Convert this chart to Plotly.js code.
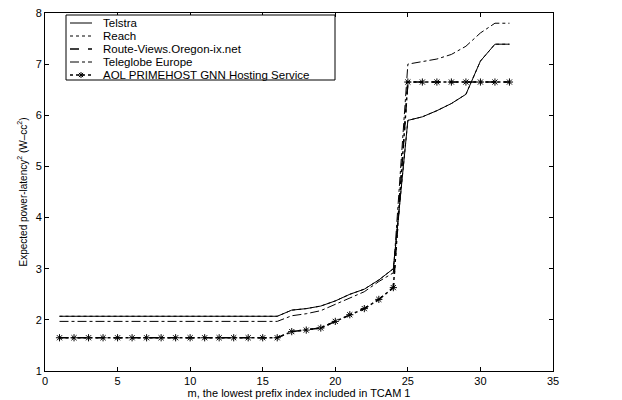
<!DOCTYPE html>
<html><head><meta charset="utf-8">
<script src="https://cdn.plot.ly/plotly-3.0.1.min.js"></script>
<style>html,body{margin:0;padding:0;background:#fff}</style>
</head><body>
<div id="chart" style="width:622px;height:400px"></div>
<script>
const m = [1,2,3,4,5,6,7,8,9,10,11,12,13,14,15,16,17,18,19,20,21,22,23,24,25,26,27,28,29,30,31,32];
const telstra = [2.07,2.07,2.07,2.07,2.07,2.07,2.07,2.07,2.07,2.07,2.07,2.07,2.07,2.07,2.07,2.07,2.19,2.22,2.27,2.37,2.5,2.6,2.78,3.0,5.9,5.97,6.09,6.23,6.41,7.06,7.39,7.39];
const reach = [2.07,2.07,2.07,2.07,2.07,2.07,2.07,2.07,2.07,2.07,2.07,2.07,2.07,2.07,2.07,2.07,2.19,2.22,2.27,2.37,2.5,2.6,2.78,3.0,5.9,5.97,6.09,6.23,6.41,7.06,7.39,7.39];
const routeViews = [1.65,1.65,1.65,1.65,1.65,1.65,1.65,1.65,1.65,1.65,1.65,1.65,1.65,1.65,1.65,1.65,1.77,1.8,1.84,1.97,2.1,2.22,2.4,2.63,6.65,6.65,6.65,6.65,6.65,6.65,6.65,6.65];
const teleglobe = [1.97,1.97,1.97,1.97,1.97,1.97,1.97,1.97,1.97,1.97,1.97,1.97,1.97,1.97,1.97,1.97,2.08,2.12,2.18,2.3,2.43,2.55,2.75,2.92,7.0,7.05,7.1,7.19,7.35,7.61,7.8,7.8];
const aol = [1.65,1.65,1.65,1.65,1.65,1.65,1.65,1.65,1.65,1.65,1.65,1.65,1.65,1.65,1.65,1.65,1.77,1.8,1.84,1.97,2.1,2.22,2.4,2.63,6.65,6.65,6.65,6.65,6.65,6.65,6.65,6.65];
const names = ['Telstra','Reach','Route-Views.Oregon-ix.net','Teleglobe Europe','AOL PRIMEHOST GNN Hosting Service'];
const dashes = ['solid','dot','dash','dashdot','dot'];
const xTicks = [0,5,10,15,20,25,30,35];
const yTicks = [1,2,3,4,5,6,7,8];

const FONT = 'Liberation Sans, Arial, sans-serif';
const traces = [
  {x:m, y:telstra, name:names[0], mode:'lines', line:{color:'#000', width:1, dash:dashes[0]}},
  {x:m, y:reach, name:names[1], mode:'lines', line:{color:'#000', width:1, dash:dashes[1]}},
  {x:m, y:routeViews, name:names[2], mode:'lines', line:{color:'#000', width:1.5, dash:dashes[2]}},
  {x:m, y:teleglobe, name:names[3], mode:'lines', line:{color:'#000', width:1, dash:dashes[3]}},
  {x:m, y:aol, name:names[4], mode:'lines+markers', line:{color:'#000', width:1.5, dash:dashes[4]},
   marker:{symbol:'asterisk-open', size:6, color:'#000', line:{color:'#000', width:1}}}
];

// Legend drawn in paper coordinates (plot area: 45..553 px wide, 13..371 px tall)
const px = v => (v - 45) / 508;
const py = v => (371 - v) / 358;
const shapes = [
  {type:'rect', xref:'paper', yref:'paper', x0:px(66), x1:px(335), y0:py(80), y1:py(15),
   line:{color:'#000', width:1}, fillcolor:'#fff', layer:'above'}
];
const annotations = [];
const rowY = [23, 36, 49, 62, 75];
names.forEach((n, i) => {
  const y = py(rowY[i]);
  shapes.push({type:'line', xref:'paper', yref:'paper', x0:px(70), x1:px(92), y0:y, y1:y,
    line:{color:'#000', width:(i===2||i===4)?1.5:1, dash:dashes[i]}, layer:'above'});
  annotations.push({xref:'paper', yref:'paper', x:px(102), y:y, xanchor:'left', yanchor:'middle',
    text:n, showarrow:false, borderpad:0, font:{family:FONT, size:11.5, color:'#000'}});
});
// asterisk marker on AOL legend sample
(function(){
  const cx = 81, cy = rowY[4], r = 3;
  const segs = [[-r,0,r,0],[0,-r,0,r],[-r*0.7,-r*0.7,r*0.7,r*0.7],[-r*0.7,r*0.7,r*0.7,-r*0.7]];
  segs.forEach(s => shapes.push({type:'line', xref:'paper', yref:'paper',
    x0:px(cx+s[0]), y0:py(cy+s[1]), x1:px(cx+s[2]), y1:py(cy+s[3]), line:{color:'#000', width:1}, layer:'above'}));
})();

const ax = {
  showline:true, mirror:'ticks', linecolor:'#000', linewidth:1,
  ticks:'inside', ticklen:4, tickcolor:'#000', showgrid:false, zeroline:false,
  tickfont:{family:FONT, size:11, color:'#000'}
};
const layout = {
  width:622, height:400, paper_bgcolor:'#fff', plot_bgcolor:'#fff',
  margin:{l:45, r:69, t:13, b:29},
  showlegend:false,
  shapes:shapes, annotations:annotations,
  xaxis:Object.assign({}, ax, {range:[0,35], tickvals:xTicks,
    title:{text:'m, the lowest prefix index included in TCAM 1', standoff:1, font:{family:FONT, size:11, color:'#000'}}}),
  yaxis:Object.assign({}, ax, {range:[1,8], tickvals:yTicks,
    title:{text:'Expected power-latency<sup>2</sup> (W–cc<sup>2</sup>)', standoff:6, font:{family:FONT, size:10, color:'#000'}}})
};
Plotly.newPlot('chart', traces, layout, {displayModeBar:false, staticPlot:true});
</script>
</body></html>
